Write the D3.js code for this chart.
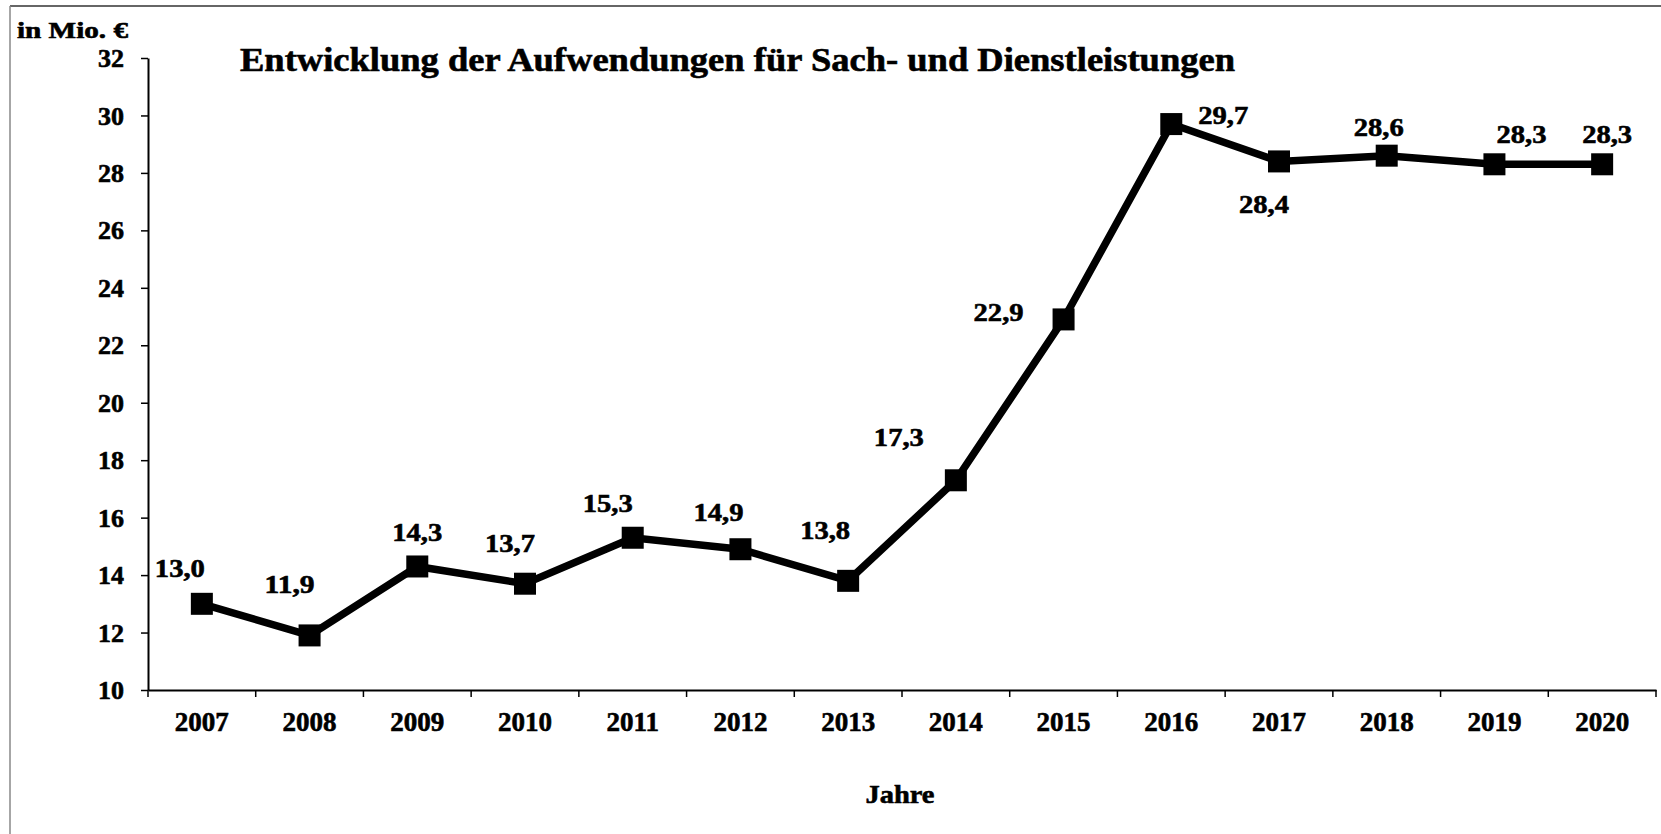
<!DOCTYPE html>
<html>
<head>
<meta charset="utf-8">
<script src="https://cdn.jsdelivr.net/npm/d3@7"></script>
<style>
  html, body { margin: 0; padding: 0; background: #fff; }
  svg { display: block; }
  text { font-family: "Liberation Serif", "Times New Roman", serif; font-weight: bold; fill: #000; stroke: #000; stroke-width: 0.6px; }
</style>
</head>
<body>
<svg id="chart" width="1661" height="834"></svg>
<script>
// ---- data ----
const years = ["2007","2008","2009","2010","2011","2012","2013","2014","2015","2016","2017","2018","2019","2020"];
const values = [13.0, 11.9, 14.3, 13.7, 15.3, 14.9, 13.8, 17.3, 22.9, 29.7, 28.4, 28.6, 28.3, 28.3];
const yTicks = [10, 12, 14, 16, 18, 20, 22, 24, 26, 28, 30, 32];
const titleText = "Entwicklung der Aufwendungen für Sach- und Dienstleistungen";
const yUnitText = "in Mio. €";
const xTitleText = "Jahre";

// ---- layout (label offsets relative to each point: dx, dy to text baseline centre) ----
const labelOffsets = [
  [-22, -27], [-20, -42], [0, -25], [-15, -32], [-25, -26], [-22, -28], [-23, -42],
  [-57, -34], [-65, 2], [52, 0], [-15, 52], [-8, -20], [27, -21], [5, -21]
];

const svg = d3.select("#chart");
const plotLeft = 148, plotRight = 1656, plotTop = 58, plotBottom = 690;

const x = d3.scaleBand().domain(years).range([plotLeft, plotRight]).padding(0);
const y = d3.scaleLinear().domain([10, 32]).range([plotBottom, plotTop]);

// frame lines (top & left)
svg.append("line").attr("x1", 10).attr("x2", 1661).attr("y1", 6).attr("y2", 6)
  .attr("stroke", "#333").attr("stroke-width", 1.5);
svg.append("line").attr("x1", 10).attr("x2", 10).attr("y1", 6).attr("y2", 834)
  .attr("stroke", "#888").attr("stroke-width", 1.5);

// Y axis
const yAxis = svg.append("g").attr("transform", `translate(${plotLeft},0)`)
  .call(d3.axisLeft(y).tickValues(yTicks).tickSize(7).tickPadding(17).tickSizeOuter(0).tickFormat(d3.format("d")));
yAxis.select(".domain").attr("stroke", "#000").attr("stroke-width", 2);
yAxis.selectAll(".tick line").attr("stroke", "#000").attr("stroke-width", 1.5);
yAxis.selectAll(".tick text").style("font-size", "26px").style("font-family", "Liberation Serif").style("font-weight", "bold").attr("dy", "0.33em");

// X axis: labels at band centres, ticks at band boundaries
const xAxis = svg.append("g").attr("transform", `translate(0,${plotBottom})`)
  .call(d3.axisBottom(x).tickSize(0).tickPadding(23).tickSizeOuter(0));
xAxis.select(".domain").attr("stroke", "#000").attr("stroke-width", 2);
xAxis.selectAll(".tick text").style("font-size", "27px").style("font-family", "Liberation Serif").style("font-weight", "bold").attr("dy", "0.68em");
const boundaries = years.map(d => x(d)).concat([x(years[years.length - 1]) + x.bandwidth()]);
svg.append("g").selectAll("line").data(boundaries).join("line")
  .attr("x1", d => d).attr("x2", d => d).attr("y1", plotBottom).attr("y2", plotBottom + 7)
  .attr("stroke", "#000").attr("stroke-width", 1.5);

// line
const pts = years.map((yr, i) => ({ yr, v: values[i], i }));
const cx = d => x(d.yr) + x.bandwidth() / 2;
svg.append("path").datum(pts)
  .attr("fill", "none").attr("stroke", "#000").attr("stroke-width", 7.5).attr("stroke-linejoin", "miter")
  .attr("d", d3.line().x(cx).y(d => y(d.v)));

// markers
const ms = 22;
svg.append("g").selectAll("rect").data(pts).join("rect")
  .attr("x", d => cx(d) - ms / 2).attr("y", d => y(d.v) - ms / 2)
  .attr("width", ms).attr("height", ms).attr("fill", "#000");

// data labels
const fmt = v => v.toFixed(1).replace(".", ",");
svg.append("g").selectAll("text").data(pts).join("text")
  .attr("x", d => cx(d) + labelOffsets[d.i][0])
  .attr("y", d => y(d.v) + labelOffsets[d.i][1])
  .attr("text-anchor", "middle")
  .style("font-size", "26px")
  .attr("textLength", 50).attr("lengthAdjust", "spacingAndGlyphs")
  .text(d => fmt(d.v));

// title
svg.append("text").attr("x", 240).attr("y", 71)
  .style("font-size", "33px")
  .attr("textLength", 995).attr("lengthAdjust", "spacingAndGlyphs")
  .text(titleText);

// y unit
svg.append("text").attr("x", 17).attr("y", 38)
  .style("font-size", "23px")
  .attr("textLength", 111).attr("lengthAdjust", "spacingAndGlyphs")
  .text(yUnitText);

// x title
svg.append("text").attr("x", 900).attr("y", 803).attr("text-anchor", "middle")
  .style("font-size", "26px")
  .attr("textLength", 69).attr("lengthAdjust", "spacingAndGlyphs")
  .text(xTitleText);
</script>
</body>
</html>
